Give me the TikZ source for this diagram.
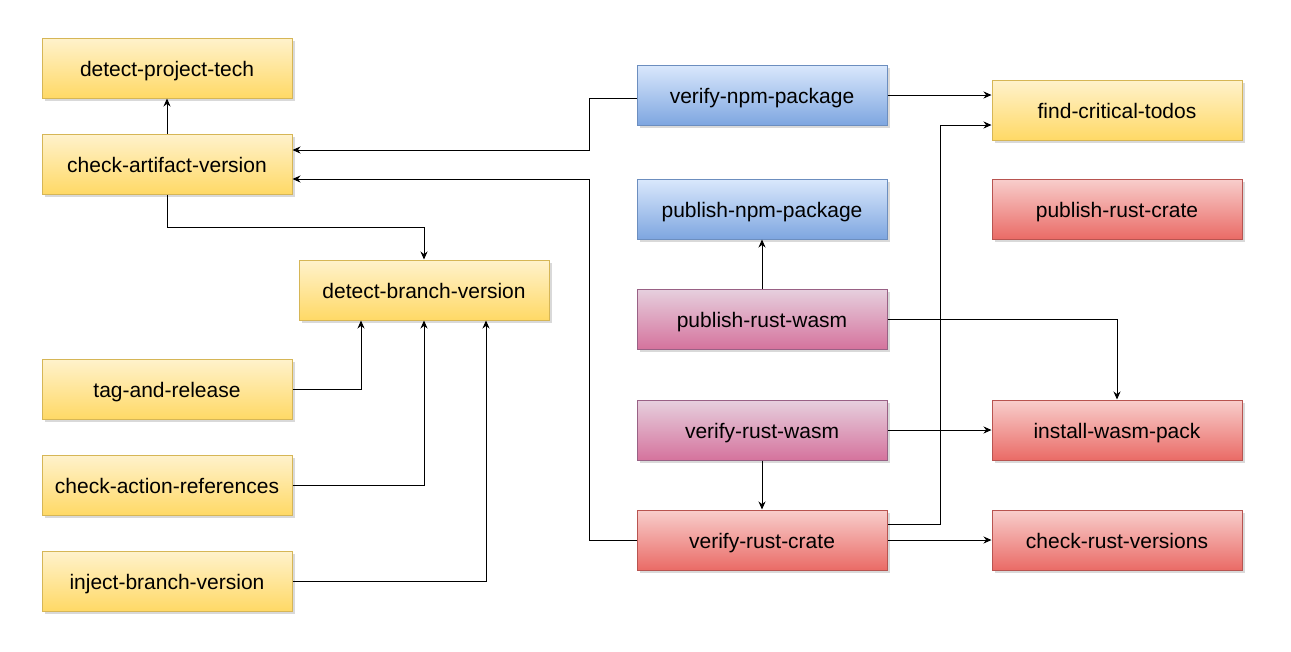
\documentclass[tikz,border=0pt]{standalone}
\usepackage{fontspec}
\setmainfont{Liberation Sans}
\usetikzlibrary{arrows.meta,shadows}

\definecolor{ylwtop}{HTML}{FFF2CC}
\definecolor{ylwbot}{HTML}{FFD966}
\definecolor{ylwline}{HTML}{D6B656}
\definecolor{blutop}{HTML}{DAE8FC}
\definecolor{blubot}{HTML}{7EA6E0}
\definecolor{bluline}{HTML}{6C8EBF}
\definecolor{pnktop}{HTML}{E6D0DE}
\definecolor{pnkbot}{HTML}{D5739D}
\definecolor{pnkline}{HTML}{996185}
\definecolor{redtop}{HTML}{F8CECC}
\definecolor{redbot}{HTML}{EA6B66}
\definecolor{redline}{HTML}{B85450}

\tikzset{
  job/.style={rectangle, minimum width=250pt, minimum height=60pt, line width=1pt,
    font=\fontsize{21}{25}\selectfont, text height=20pt, text depth=4pt,
    drop shadow={shadow xshift=3pt, shadow yshift=-3pt, opacity=0.25, fill=black!60}},
  ylwjob/.style={job, draw=ylwline, top color=ylwtop, bottom color=ylwbot},
  blujob/.style={job, draw=bluline, top color=blutop, bottom color=blubot},
  pnkjob/.style={job, draw=pnkline, top color=pnktop, bottom color=pnkbot},
  redjob/.style={job, draw=redline, top color=redtop, bottom color=redbot},
  dep/.style={-{Stealth[length=8pt,width=7pt]}, line width=1pt}
}

\begin{document}
\begin{tikzpicture}[x=1pt,y=-1pt]
\useasboundingbox (0,0) rectangle (1291,651);
% left column
\node[ylwjob] (dpt) at (167,68) {detect-project-tech};
\node[ylwjob] (cav) at (167,164) {check-artifact-version};
\node[ylwjob] (dbv) at (424,290) {detect-branch-version};
\node[ylwjob] (tar) at (167,389) {tag-and-release};
\node[ylwjob] (car) at (167,485) {check-action-references};
\node[ylwjob] (ibv) at (167,581) {inject-branch-version};
% middle column
\node[blujob] (vnp) at (762,95) {verify-npm-package};
\node[blujob] (pnp) at (762,209) {publish-npm-package};
\node[pnkjob] (prw) at (762,319) {publish-rust-wasm};
\node[pnkjob] (vrw) at (762,430) {verify-rust-wasm};
\node[redjob] (vrc) at (762,540) {verify-rust-crate};
% right column
\node[ylwjob] (fct) at (1117,110) {find-critical-todos};
\node[redjob] (prc) at (1117,209) {publish-rust-crate};
\node[redjob] (iwp) at (1117,430) {install-wasm-pack};
\node[redjob] (crv) at (1117,540) {check-rust-versions};

\draw[dep] (cav.north) -- (dpt.south);
\draw[dep] (cav.south) -- ++(0,33) -| (dbv.north);
\draw[dep] (tar.east) -| ([xshift=-63pt]dbv.south);
\draw[dep] (car.east) -| (dbv.south);
\draw[dep] (ibv.east) -| ([xshift=62pt]dbv.south);
\draw[dep] ([yshift=-3pt]vnp.west) -- ++(-47,0) |- ([yshift=14pt]cav.east);
\draw[dep] (vrc.west) -- ++(-47,0) |- ([yshift=-15pt]cav.east);
\draw[dep] (vnp.east) -- (vnp.east -| fct.west);
\draw[dep] ([yshift=16pt]vrc.east) -- ++(53,0) |- ([yshift=-15pt]fct.west);
\draw[dep] (prw.north) -- (pnp.south);
\draw[dep] (prw.east) -| (iwp.north);
\draw[dep] (vrw.east) -- (iwp.west);
\draw[dep] (vrw.south) -- (vrc.north);
\draw[dep] (vrc.east) -- (crv.west);
\end{tikzpicture}
\end{document}
